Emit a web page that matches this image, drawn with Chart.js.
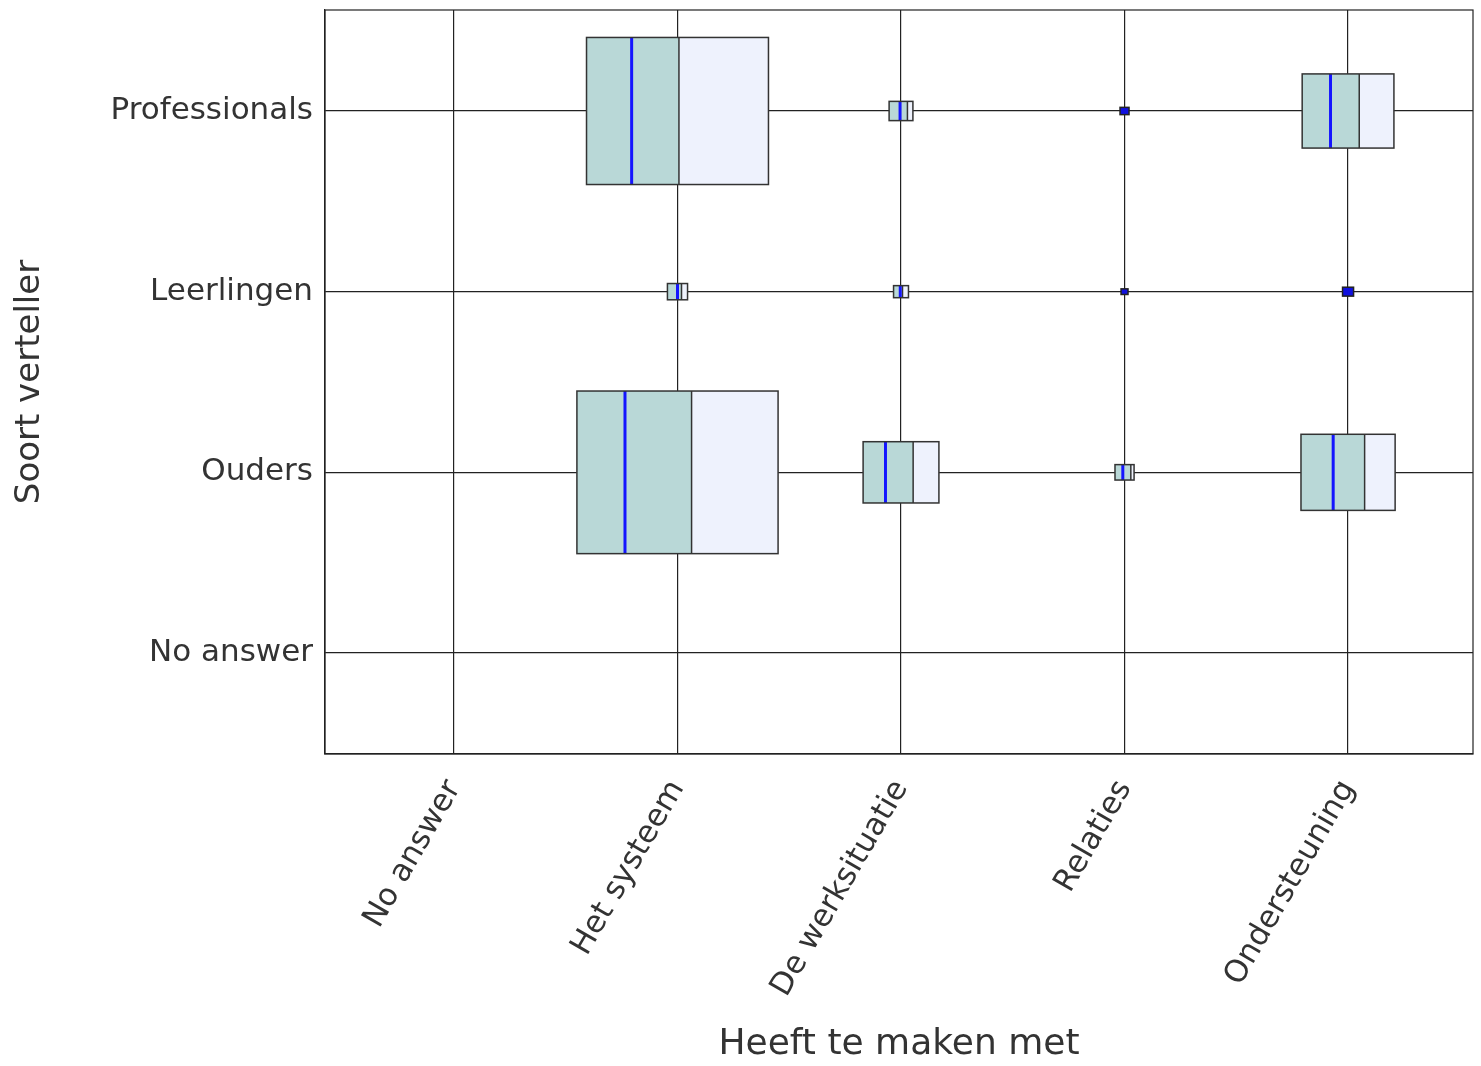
<!DOCTYPE html>
<html>
<head>
<meta charset="utf-8">
<script src="https://cdn.jsdelivr.net/npm/chart.js@4.4.1/dist/chart.umd.min.js"></script>
<style>
  html, body { margin: 0; padding: 0; background: #fff; }
  #wrap { width: 1481px; height: 1066px; }
</style>
</head>
<body>
<div id="wrap"><canvas id="mycanvas"></canvas></div>
<script>
// categories
var topics = ['No answer', 'Het systeem', 'De werksituatie', 'Relaties', 'Ondersteuning'];
var tellers = ['Professionals', 'Leerlingen', 'Ouders', 'No answer'];

// weight of every cell (box area), one row per teller
var weightProf   = [0, 81.8, 1.4, 0.2, 20.8];
var weightLeer   = [0, 1.0, 0.55, 0.12, 0.3];
var weightOuders = [0, 100, 14.2, 0.9, 21.9];
var weightNoAns  = [0, 0, 0, 0, 0];

// share of the left (teal) part of each box
var shareProf   = [0, 0.508, 0.77, 0.5, 0.622];
var shareLeer   = [0, 0.7, 0.6, 0.5, 0.5];
var shareOuders = [0, 0.570, 0.66, 0.83, 0.676];
var shareNoAns  = [0, 0, 0, 0, 0];

// where the blue mark sits inside each box (0..1 of the width)
var markProf   = [0, 0.248, 0.46, 0.5, 0.309];
var markLeer   = [0, 0.5, 0.45, 0.5, 0.5];
var markOuders = [0, 0.239, 0.295, 0.41, 0.342];
var markNoAns  = [0, 0, 0, 0, 0];

var weights = [weightProf, weightLeer, weightOuders, weightNoAns];
var shares = [shareProf, shareLeer, shareOuders, shareNoAns];
var marks = [markProf, markLeer, markOuders, markNoAns];

var sideFactor = 0.09; // box side in axis units = sideFactor * sqrt(weight)

var points = [];
for (var i in weights) {
	for (var j in weights[i]) {
		if (weights[i][j] > 0) points.push({x: +j, y: +i, w: weights[i][j], s: shares[i][j], m: marks[i][j]});
	}
}

var boxes = {
	id: 'boxes',
	beforeDatasetsDraw: function(chart) {
		var c = chart.ctx, a = chart.chartArea;
		c.save();
		c.strokeStyle = '#222';
		c.lineWidth = 1.2;
		c.strokeRect(a.left, a.top, a.right - a.left, a.bottom - a.top);
		c.restore();
	},
	afterDatasetsDraw: function(chart) {
		var c = chart.ctx, xs = chart.scales.x, ys = chart.scales.y;
		c.save();
		points.forEach(function(p) {
			var half = sideFactor * Math.sqrt(p.w) / 2;
			var l = xs.getPixelForValue(p.x - half), r = xs.getPixelForValue(p.x + half);
			var t = ys.getPixelForValue(p.y - half), b = ys.getPixelForValue(p.y + half);
			var w = r - l, h = b - t;
			var split = l + w * p.s;
			if (w < 12) {
				// too small to show the parts: the blue mark fills it
				c.fillStyle = '#1010e0';
				c.fillRect(l, t, w, h);
				c.strokeStyle = '#222';
				c.lineWidth = 1.5;
				c.strokeRect(l, t, w, h);
				return;
			}
			c.fillStyle = '#eef2fd';
			c.fillRect(l, t, w, h);
			c.fillStyle = '#b9d8d7';
			c.fillRect(l, t, split - l, h);
			c.strokeStyle = '#333';
			c.lineWidth = 1.5;
			c.beginPath();
			c.moveTo(split, t); c.lineTo(split, b);
			c.stroke();
			c.strokeStyle = '#1515ff';
			c.lineWidth = 3;
			c.beginPath();
			c.moveTo(l + w * p.m, t); c.lineTo(l + w * p.m, b);
			c.stroke();
			c.strokeStyle = '#333';
			c.lineWidth = 1.5;
			c.strokeRect(l, t, w, h);
		});
		c.restore();
	}
};

var font = 'DejaVu Sans';
var ctx = document.getElementById('mycanvas');
new Chart(ctx, {
	type: 'scatter',
	data: {
		datasets: [{
			label: 'cells',
			data: points,
			pointRadius: 0,
			pointHoverRadius: 0
		}]
	},
	options: {
		responsive: true,
		maintainAspectRatio: false,
		animation: false,
		events: [],
		layout: { padding: { left: 0, right: 8, top: 10, bottom: 0 } },
		plugins: { legend: { display: false }, tooltip: { enabled: false } },
		scales: {
			x: {
				type: 'linear',
				min: -0.577,
				max: 4.559,
				afterBuildTicks: function(s) { s.ticks = topics.map(function(t, k) { return {value: k}; }); },
				afterFit: function(s) { s.height = 312; s.paddingLeft = 0; s.paddingRight = 0; },
				grid: { color: '#222', lineWidth: 1.2, drawTicks: false },
				border: { color: '#222', width: 1.2 },
				ticks: {
					autoSkip: false,
					minRotation: 60,
					maxRotation: 60,
					padding: 20,
					color: '#333',
					font: { family: font, size: 31 },
					callback: function(v) { return topics[v]; }
				},
				title: {
					display: true,
					text: 'Heeft te maken met',
					color: '#333',
					font: { family: font, size: 36 },
					padding: { top: 0, bottom: 0 }
				}
			},
			y: {
				type: 'linear',
				reverse: true,
				min: -0.559,
				max: 3.559,
				afterBuildTicks: function(s) { s.ticks = tellers.map(function(t, k) { return {value: k}; }); },
				afterFit: function(s) { s.width = 325; s.paddingTop = 0; s.paddingBottom = 0; },
				grid: { color: '#222', lineWidth: 1.2, drawTicks: false },
				border: { color: '#222', width: 1.2 },
				ticks: {
					autoSkip: false,
					padding: 12,
					color: '#333',
					font: { family: font, size: 31 },
					callback: function(v) { return tellers[v]; }
				},
				title: {
					display: true,
					text: 'Soort verteller',
					color: '#333',
					font: { family: font, size: 34 },
					padding: { top: 10, bottom: 0 }
				}
			}
		}
	},
	plugins: [boxes]
});
</script>
</body>
</html>
